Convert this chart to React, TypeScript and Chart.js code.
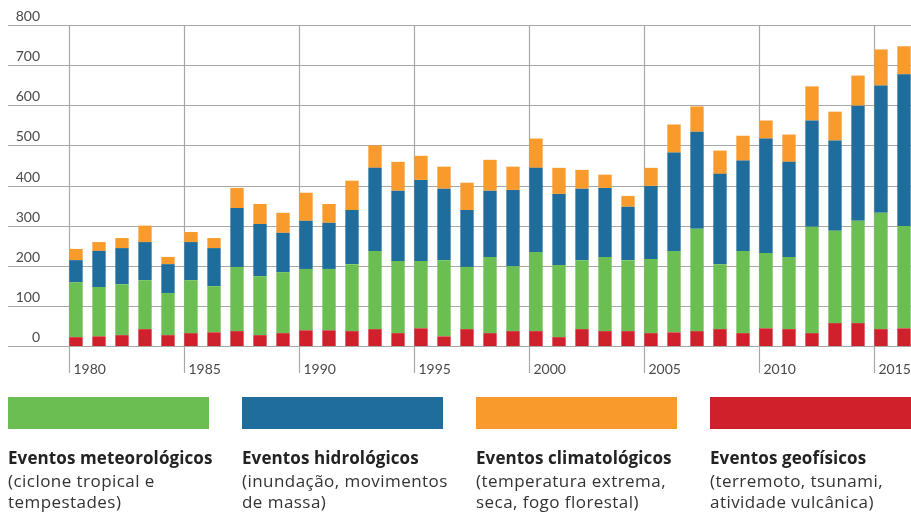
import React, { useEffect, useRef } from "react";
import { Chart, registerables } from "chart.js";

Chart.register(...registerables);

const years = [
  "1980","1981","1982","1983","1984","1985","1986","1987","1988","1989",
  "1990","1991","1992","1993","1994","1995","1996","1997","1998","1999",
  "2000","2001","2002","2003","2004","2005","2006","2007","2008","2009",
  "2010","2011","2012","2013","2014","2015","2016",
];
const labeledYears = ["1980", "1985", "1990", "1995", "2000", "2005", "2010", "2015"];
const yTicks = [0, 100, 200, 300, 400, 500, 600, 700, 800];

const geophysical = [22,24,27,42,27,32,34,37,27,32,39,39,37,42,32,44,24,42,32,37,37,22,42,37,37,32,34,37,42,32,44,42,32,57,57,42,44];
const meteorological = [137,123,127,122,105,132,115,160,147,152,153,153,167,195,180,168,190,155,190,162,197,180,172,185,177,185,203,255,162,205,188,180,265,230,255,290,255];
const hydrological = [55,90,90,95,72,95,95,147,130,98,120,115,135,207,175,202,178,142,165,190,210,177,178,172,133,182,245,242,225,225,285,237,265,225,287,317,378];
const climatological = [28,22,25,41,18,25,25,50,50,50,70,47,73,56,72,60,55,68,77,58,73,65,47,33,27,45,70,63,58,62,45,68,85,72,75,90,70];

const RED = "#d0202b";
const GREEN = "#6bbe52";
const BLUE = "#1f6d9c";
const ORANGE = "#f89a2c";
const GRID = "#a8a8a8";
const AXIS_FONT = "Lato, 'Noto Sans', sans-serif";
const LEGEND_FONT = "'Open Sans', 'Noto Sans', sans-serif";

const legendItems = [
  { color: GREEN, title: "Eventos meteorológicos", lines: ["(ciclone tropical e", "tempestades)"] },
  { color: BLUE, title: "Eventos hidrológicos", lines: ["(inundação, movimentos", "de massa)"] },
  { color: ORANGE, title: "Eventos climatológicos", lines: ["(temperatura extrema,", "seca, fogo florestal)"] },
  { color: RED, title: "Eventos geofísicos", lines: ["(terremoto, tsunami,", "atividade vulcânica)"] },
];

const axesPlugin = {
  id: "customAxes",
  beforeDatasetsDraw(chart: any) {
    const ctx = chart.ctx;
    const xs = chart.scales.x;
    const ys = chart.scales.y;
    const meta = chart.getDatasetMeta(0);
    ctx.save();
    ctx.strokeStyle = GRID;
    ctx.lineWidth = 1.2;
    ctx.fillStyle = "#4a4a4a";
    ctx.font = "14px " + AXIS_FONT;
    yTicks.forEach((v) => {
      const py = Math.round(ys.getPixelForValue(v)) + 0.5;
      ctx.beginPath();
      ctx.moveTo(8, py);
      ctx.lineTo(chart.width, py);
      ctx.stroke();
      ctx.textAlign = "right";
      ctx.textBaseline = "alphabetic";
      ctx.fillText(String(v), 40, py - 4.5);
    });
    const top = Math.round(ys.getPixelForValue(800)) + 0.5;
    const zero = ys.getPixelForValue(0);
    labeledYears.forEach((yr) => {
      const idx = years.indexOf(yr);
      const el = meta.data[idx] as any;
      const w = el ? el.width : 13;
      const px = Math.round(xs.getPixelForValue(idx) - w / 2) + 0.5;
      ctx.beginPath();
      ctx.moveTo(px, top);
      ctx.lineTo(px, zero + 27);
      ctx.stroke();
      ctx.textAlign = "left";
      ctx.fillText(yr, px + 4, zero + 27.5);
    });
    ctx.restore();
  },
};

export default function App() {
  const ref = useRef<HTMLCanvasElement | null>(null);
  useEffect(() => {
    document.body.style.margin = "0";
    if (!ref.current) return;
    const chart = new Chart(ref.current, {
      type: "bar",
      data: {
        labels: years,
        datasets: [
          { label: "Eventos geofísicos", data: geophysical, backgroundColor: RED, clip: false as any },
          { label: "Eventos meteorológicos", data: meteorological, backgroundColor: GREEN, clip: false as any },
          { label: "Eventos hidrológicos", data: hydrological, backgroundColor: BLUE, clip: false as any },
          { label: "Eventos climatológicos", data: climatological, backgroundColor: ORANGE, clip: false as any },
        ],
      },
      options: {
        responsive: false,
        animation: false,
        layout: { padding: { left: 76, right: 7, top: 25, bottom: 167 } },
        datasets: { bar: { barPercentage: 1, categoryPercentage: 0.58, borderWidth: 0 } },
        plugins: { legend: { display: false }, tooltip: { enabled: false } },
        scales: {
          x: { stacked: true, offset: false, display: false },
          y: { stacked: true, min: 0, max: 800, display: false },
        },
      },
      plugins: [axesPlugin],
    });
    return () => chart.destroy();
  }, []);

  return (
    <div style={{ position: "relative", width: 911, height: 513, overflow: "hidden", background: "#fff" }}>
      <canvas ref={ref} width={911} height={513} style={{ position: "absolute", left: 0, top: 0 }} />
      {legendItems.map((it, i) => (
        <div key={i} style={{ position: "absolute", left: 8 + i * 234, top: 397, width: 232 }}>
          <div style={{ width: 201, height: 32, background: it.color }} />
          <div style={{ marginTop: 17.5, fontFamily: LEGEND_FONT, fontSize: 17, lineHeight: "22px", color: "#333", whiteSpace: "nowrap" }}>
            <div style={{ fontWeight: 700, color: "#222", letterSpacing: "0.1px", marginBottom: 1 }}>{it.title}</div>
            {it.lines.map((l, j) => (
              <div key={j} style={{ letterSpacing: "0.45px", lineHeight: "21px" }}>{l}</div>
            ))}
          </div>
        </div>
      ))}
    </div>
  );
}
